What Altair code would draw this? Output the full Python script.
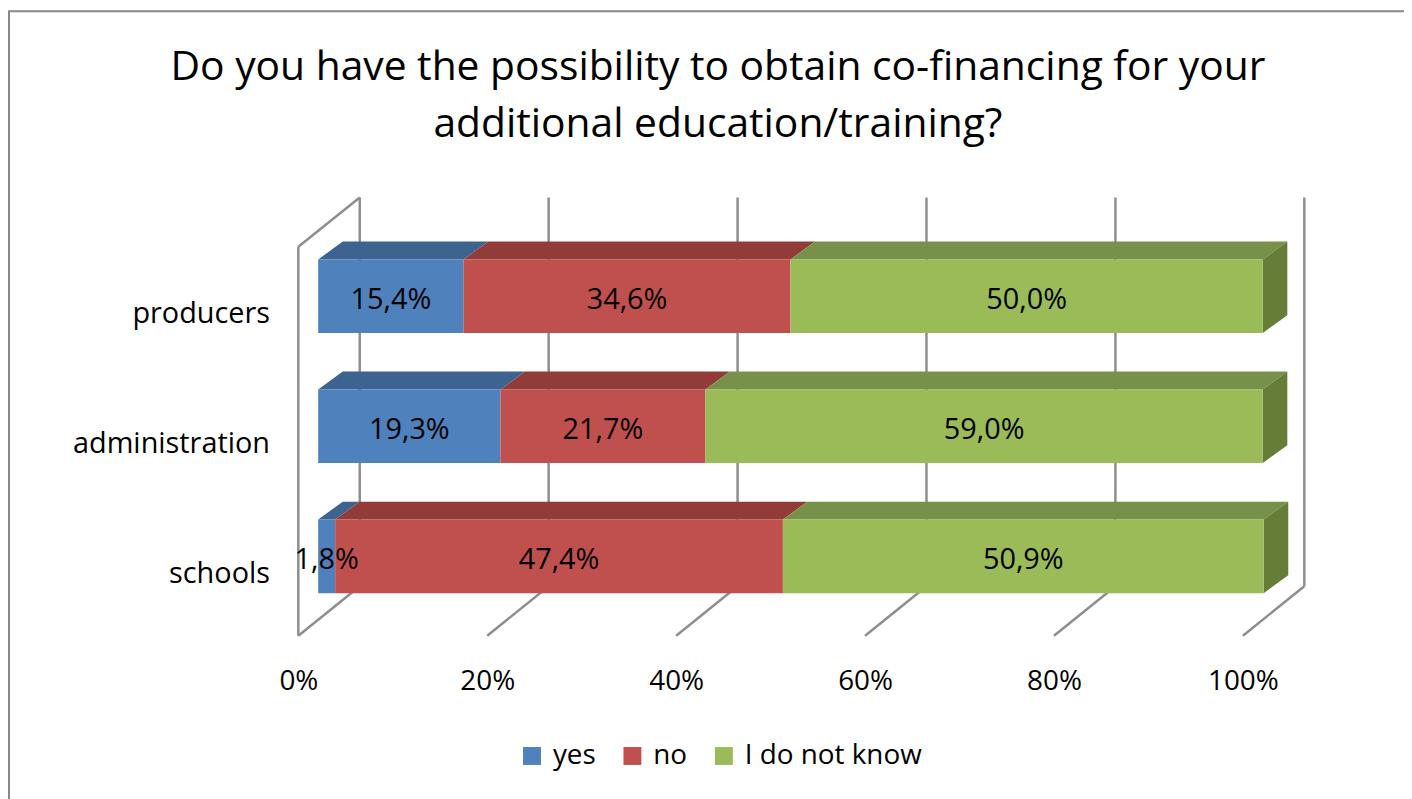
import altair as alt
import pandas as pd

# ---- data ----
categories = ["producers", "administration", "schools"]
answers = ["yes", "no", "I do not know"]
yes_vals = [15.4, 19.3, 1.8]
no_vals = [34.6, 21.7, 47.4]
dk_vals = [50.0, 59.0, 50.9]
tick_values = [0, 20, 40, 60, 80, 100]
title_text = "Do you have the possibility to obtain co-financing for your\nadditional education/training?"

# ---- style constants (3D look) ----
FONT = "Open Sans"
FS = 28
FRONT_DX = 2.1    # bar front plane offset (x units)
BAR_DX = 2.6      # bar depth in x units
BAR_DY = 0.1375   # bar depth in row units
HALF = 0.283      # half bar height (row units)
WALL_DX = 6.5
WALL_DY = 0.38
FLOOR = -0.61
WALL_TOP = 2.38
front_colors = ["#4F81BD", "#C0504D", "#9BBB59"]
top_colors = ["#3D6391", "#923C3A", "#77904A"]
side_color = "#667D37"
grid_color = "#8E8E8E"

n = len(categories)
fronts, tops, sides, cats = [], [], [], []
for i, cat in enumerate(categories):
    row = n - 1 - i
    vals = [yes_vals[i], no_vals[i], dk_vals[i]]
    s = 0.0
    cats.append({"cat": cat, "row": row - 0.14, "x": -3.0})
    for j, (ans, v) in enumerate(zip(answers, vals)):
        e = s + v
        seg = f"{cat}-{ans}"
        fronts.append({"answer": ans, "x0": s + FRONT_DX, "x1": e + FRONT_DX,
                       "y0": row - HALF, "y1": row + HALF,
                       "xm": (s + e) / 2 + FRONT_DX, "row": row,
                       "label": f"{v:.1f}".replace(".", ",") + "%"})
        tops.append({"seg": seg, "answer": ans, "y": row + HALF,
                     "xa": s + FRONT_DX, "xb": e + FRONT_DX})
        tops.append({"seg": seg, "answer": ans, "y": row + HALF + BAR_DY,
                     "xa": s + FRONT_DX + BAR_DX, "xb": e + FRONT_DX + BAR_DX})
        if j == len(answers) - 1:
            sides.append({"seg": seg, "x": e + FRONT_DX,
                          "ylo": row - HALF, "yhi": row + HALF})
            sides.append({"seg": seg, "x": e + FRONT_DX + BAR_DX,
                          "ylo": row - HALF + BAR_DY, "yhi": row + HALF + BAR_DY})
        s = e

grid = []
for t in tick_values:
    grid.append({"x": t + WALL_DX, "x2": t + WALL_DX, "y": FLOOR + WALL_DY, "y2": WALL_TOP + WALL_DY})
    grid.append({"x": t, "x2": t + WALL_DX, "y": FLOOR, "y2": FLOOR + WALL_DY})
grid.append({"x": 0, "x2": 0, "y": FLOOR, "y2": WALL_TOP})
grid.append({"x": 0, "x2": WALL_DX, "y": WALL_TOP, "y2": WALL_TOP + WALL_DY})

fronts = pd.DataFrame(fronts)
tops = pd.DataFrame(tops)
sides = pd.DataFrame(sides)
grid = pd.DataFrame(grid)
cats = pd.DataFrame(cats)

xs = alt.Scale(domain=[0, 100], nice=False, zero=False)
ys = alt.Scale(domain=[FLOOR, 2.80], nice=False, zero=False)

xaxis = alt.Axis(values=tick_values, labelExpr="datum.value + '%'", domain=False,
                 ticks=False, grid=False, labelFont=FONT, labelFontSize=FS,
                 labelColor="black", labelPadding=32, labelFlush=False,
                 labelAlign="center", title=None)

border = alt.Chart(pd.DataFrame({"k": [0]})).mark_rect(
    fillOpacity=0, stroke="#888888", strokeWidth=2).encode(
    x=alt.value(-291), x2=alt.value(1130), y=alt.value(-182), y2=alt.value(640))

title = alt.Chart(pd.DataFrame({"t": [title_text]})).mark_text(
    font=FONT, fontSize=41, color="black", lineBreak="\n", lineHeight=57,
    align="center", baseline="alphabetic").encode(
    x=alt.value(422), y=alt.value(-113), text="t:N")

gridlines = alt.Chart(grid).mark_rule(color=grid_color, strokeWidth=2.5).encode(
    x=alt.X("x:Q", scale=xs, axis=xaxis), x2="x2:Q",
    y=alt.Y("y:Q", scale=ys, axis=None), y2="y2:Q")

top_layers = []
for ans, col in zip(answers, top_colors):
    top_layers.append(
        alt.Chart(tops).transform_filter(alt.datum.answer == ans)
        .mark_area(orient="horizontal", color=col).encode(
            y=alt.Y("y:Q", scale=ys, axis=None),
            x=alt.X("xa:Q", scale=xs, stack=None), x2="xb:Q",
            detail="seg:N"))

side_faces = alt.Chart(sides).mark_area(orient="vertical", color=side_color).encode(
    x=alt.X("x:Q", scale=xs),
    y=alt.Y("ylo:Q", scale=ys, stack=None), y2="yhi:Q",
    detail="seg:N")

front_faces = alt.Chart(fronts).mark_rect().encode(
    x=alt.X("x0:Q", scale=xs), x2="x1:Q",
    y=alt.Y("y0:Q", scale=ys), y2="y1:Q",
    color=alt.Color("answer:N", scale=alt.Scale(domain=answers, range=front_colors),
                    sort=answers,
                    legend=alt.Legend(orient="none", legendX=221, legendY=553,
                                      direction="horizontal", title=None,
                                      symbolType="square", symbolSize=324,
                                      symbolStrokeWidth=0, symbolOpacity=1,
                                      labelFont=FONT, labelFontSize=FS,
                                      labelColor="black", labelOffset=7,
                                      labelLimit=400, columnPadding=22, padding=0)))

labels = alt.Chart(fronts).mark_text(font=FONT, fontSize=29, color="black", dy=4).encode(
    x=alt.X("xm:Q", scale=xs), y=alt.Y("row:Q", scale=ys), text="label:N")

cat_labels = alt.Chart(cats).mark_text(font=FONT, fontSize=29, color="black", align="right").encode(
    x=alt.X("x:Q", scale=xs), y=alt.Y("row:Q", scale=ys), text="cat:N")

chart = alt.layer(border, title, gridlines, *top_layers, side_faces, front_faces,
                  labels, cat_labels).properties(
    width=950, height=446,
    padding={"left": 292, "top": 183, "right": 162, "bottom": 162},
    autosize=alt.AutoSizeParams(type="none"),
    background="white",
).configure_view(stroke=None)

chart.save("out.html", embed_options={"renderer": "svg", "actions": False})
